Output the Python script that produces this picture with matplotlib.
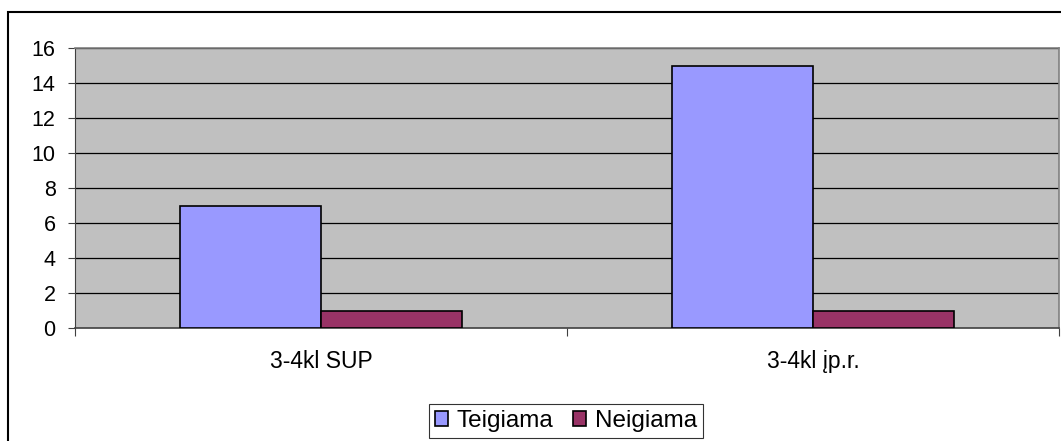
import numpy as np
import matplotlib.pyplot as plt
from matplotlib.patches import Rectangle

categories = ['3-4kl SUP', '3-4kl įp.r.']
teigiama = [7, 15]
neigiama = [1, 1]
series_labels = ['Teigiama', 'Neigiama']
yticks = [0, 2, 4, 6, 8, 10, 12, 14, 16]

plt.rcParams['font.family'] = ['Liberation Sans', 'DejaVu Sans']

fig = plt.figure(figsize=(10.61, 4.41), dpi=100)
ax = fig.add_axes([75 / 1061, 1 - 328 / 441, 984 / 1061, 280 / 441])

# outer chart frame (cut off at right and bottom like the original)
fig.patches.append(Rectangle((8 / 1061, -0.1), 1.2, 1 - 12 / 441 + 0.1,
                             transform=fig.transFigure, fill=False,
                             edgecolor='black', linewidth=1.5))

ax.set_facecolor('#C0C0C0')
x = np.arange(len(categories))
w = 0.287

# Grid lines
for t in yticks[1:]:
  ax.axhline(t, color='black', linewidth=0.9, zorder=1)

ax.bar(x - w / 2, teigiama, w, color='#9999FF', edgecolor='black',
       linewidth=1.2, label=series_labels[0], zorder=3)
ax.bar(x + w / 2, neigiama, w, color='#993366', edgecolor='black',
       linewidth=1.2, label=series_labels[1], zorder=3)

ax.set_xlim(-0.5, 1.5)
ax.set_ylim(0, 16)
ax.set_yticks(yticks)
ax.set_yticklabels([str(t) for t in yticks], fontsize=15.5)

ax.set_xticks([-0.5, 0.5, 1.5])
ax.set_xticklabels([])
ax.set_xticks(x, minor=True)
ax.set_xticklabels(categories, minor=True, fontsize=16.5)
ax.tick_params(axis='x', which='minor', length=0, pad=16)
ax.tick_params(axis='x', which='major', length=6, width=0.8, color='#404040')
ax.tick_params(axis='y', length=5, width=0.8, color='#404040', pad=9)

for side in ['top', 'right']:
  ax.spines[side].set_color('#808080')
  ax.spines[side].set_linewidth(1.2)
ax.spines['left'].set_color('#404040')
ax.spines['bottom'].set_color('#404040')
ax.spines['bottom'].set_linewidth(1.2)

leg = fig.legend(loc='center', bbox_to_anchor=(566 / 1061, 1 - 421 / 441),
                 ncol=2, fontsize=17.5, frameon=True, fancybox=False,
                 handlelength=0.55, handleheight=0.55, handletextpad=0.35,
                 columnspacing=0.8, borderpad=0.25, borderaxespad=0)
leg.get_frame().set_edgecolor('black')
leg.get_frame().set_linewidth(0.8)

plt.savefig('out.png', dpi=100)
